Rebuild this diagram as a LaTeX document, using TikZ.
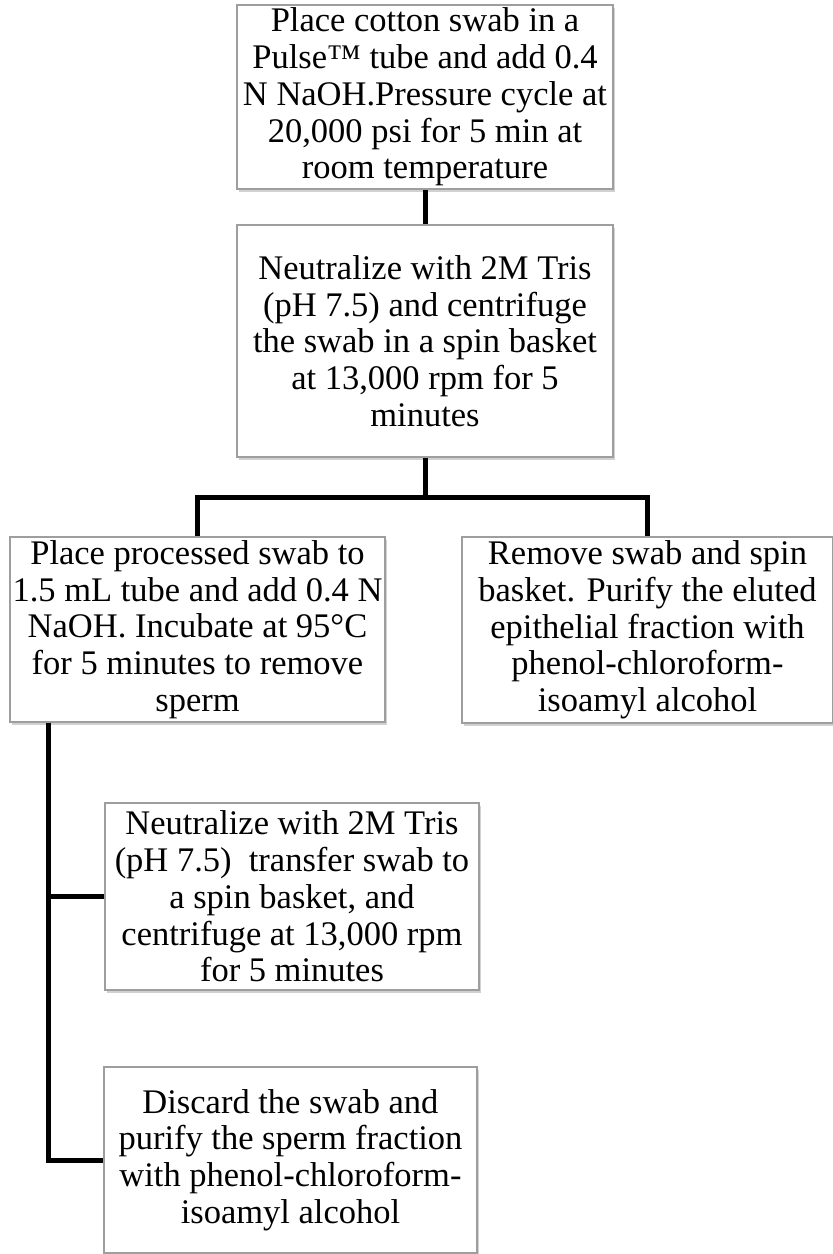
\documentclass[tikz,border=0pt]{standalone}
\usepackage{fontspec}
\setmainfont{Liberation Serif}
\usetikzlibrary{shadows}
\begin{document}
\begin{tikzpicture}[x=1pt,y=-1pt,
  stepbox/.style={draw=black!38, line width=1.3pt, fill=white, inner sep=1pt,
    align=center, font=\fontsize{34.5}{36.7}\selectfont,
    drop shadow={shadow xshift=2pt, shadow yshift=-2.5pt, fill=black, opacity=0.18}},
  conn/.style={line width=5pt, black}]
\useasboundingbox (0,0) rectangle (833,1254);
\node[stepbox, minimum width=376, minimum height=184] (b1) at (425,97)
 {Place cotton swab in a\\Pulse™ tube and add 0.4\\N NaOH.Pressure cycle at\\20,000 psi for 5 min at\\room temperature};
\node[stepbox, minimum width=376, minimum height=232] (b2) at (425,341)
 {Neutralize with 2M Tris\\(pH 7.5) and centrifuge\\the swab in a spin basket\\at 13,000 rpm for 5\\minutes};
\node[stepbox, minimum width=375, minimum height=185] (b3) at (197.5,629.5)
 {Place processed swab to\\1.5 mL tube and add 0.4 N\\NaOH. Incubate at 95°C\\for 5 minutes to remove\\sperm};
\node[stepbox, minimum width=371, minimum height=186] (b4) at (647.5,630)
 {Remove swab and spin\\basket. Purify the eluted\\epithelial fraction with\\phenol-chloroform-\\isoamyl alcohol};
\node[stepbox, minimum width=374, minimum height=187] (b5) at (292,896.5)
 {Neutralize with 2M Tris\\(pH 7.5)\ \ transfer swab to\\a spin basket, and\\centrifuge at 13,000 rpm\\for 5 minutes};
\node[stepbox, minimum width=373, minimum height=186] (b6) at (290.5,1160)
 {Discard the swab and\\purify the sperm fraction\\with phenol-chloroform-\\isoamyl alcohol};
\coordinate (j) at (425,497);
\coordinate (tr) at (48,1160);
\draw[conn] (b1.south) -- (b2.north);
\draw[conn] (b2.south) -- (j);
\draw[conn] (b3.north) |- (j) -| (b4.north);
\draw[conn] (b3.south -| tr) |- (b6.west);
\draw[conn] (tr |- b5.west) -- (b5.west);
\end{tikzpicture}
\end{document}
